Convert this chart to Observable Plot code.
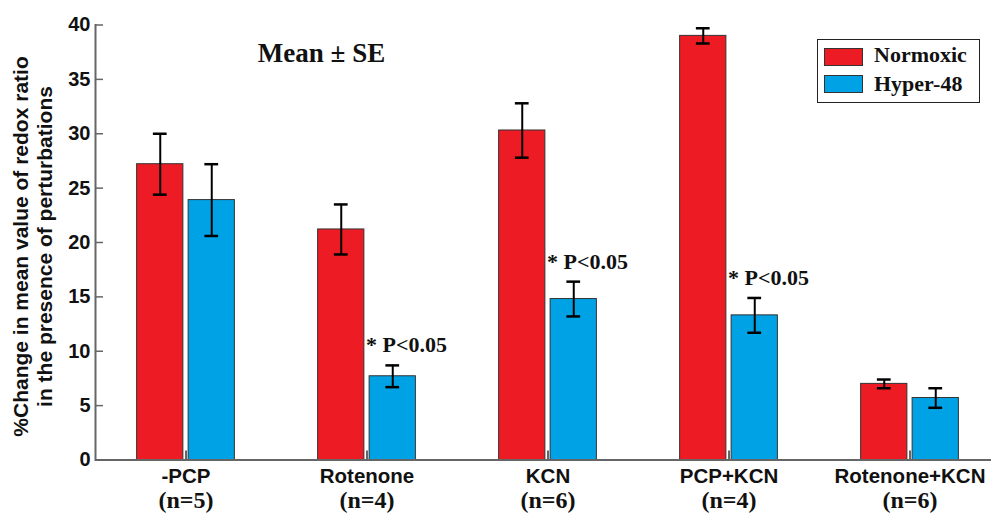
<!DOCTYPE html>
<html>
<head>
<meta charset="utf-8">
<script src="https://cdn.jsdelivr.net/npm/d3@7"></script>
<script src="https://cdn.jsdelivr.net/npm/@observablehq/plot@0.6"></script>
<style>
  body { margin: 0; background: #fff; }
  #chart { position: relative; width: 991px; height: 513px; }
  #chart svg { position: absolute; left: 0; top: 0; }
  .legend { position: absolute; left: 817px; top: 39px; width: 161px; height: 62px;
            border: 1.5px solid #222; background: #fff;
            font: bold 22px "Liberation Serif", "Times New Roman", serif; color: #111; }
  .legend .sw { position: absolute; left: 6px; width: 37px; height: 16px; border: 1px solid #333; }
  .legend .lab { position: absolute; left: 56px; line-height: 22px; white-space: nowrap; }
</style>
</head>
<body>
<div id="chart"></div>
<script>
// Treatment groups and their sample sizes
const groups = ["-PCP", "Rotenone", "KCN", "PCP+KCN", "Rotenone+KCN"];
const groupN = ["(n=5)", "(n=4)", "(n=6)", "(n=4)", "(n=6)"];

// Series
const series = ["Normoxic", "Hyper-48"];
const seriesColors = ["#ed1c24", "#00a2e6"];

// % change in mean redox ratio, mean and standard error
const normoxicMean = [27.2, 21.2, 30.3, 39.0, 7.0];
const normoxicSE   = [2.8, 2.3, 2.5, 0.7, 0.4];
const hyperMean    = [23.9, 7.7, 14.8, 13.3, 5.7];
const hyperSE      = [3.3, 1.0, 1.6, 1.6, 0.9];

// Significance annotation for the Hyper-48 bar of each group
const significance = ["", "* P<0.05", "* P<0.05", "* P<0.05", ""];

const yTicks = [0, 5, 10, 15, 20, 25, 30, 35, 40];
const yTitle = "%Change in mean value of redox ratio\nin the presence of perturbations";
const statNote = "Mean \u00b1 SE";

// Long table built from the arrays above
const rows = [];
groups.forEach((g, i) => {
  rows.push({group: g, series: series[0], mean: normoxicMean[i], se: normoxicSE[i]});
  rows.push({group: g, series: series[1], mean: hyperMean[i], se: hyperSE[i]});
});
const normRows = rows.filter(d => d.series === series[0]);
const hypRows = rows.filter(d => d.series === series[1]);
const sigRows = hypRows.map((d, i) => ({...d, label: significance[i]})).filter(d => d.label);

// Geometry
const width = 991, height = 513;
const marginLeft = 95, marginRight = 0, marginTop = 24.5, marginBottom = 53.5;
const frameW = width - marginLeft - marginRight;
const frameH = height - marginTop - marginBottom;
const xRange = [94.4, 1000.6];
const bw = (xRange[1] - xRange[0]) / groups.length;
// insets that place a span [lo, hi] (relative to the band centre) inside the band
const span = (lo, hi) => ({insetLeft: bw / 2 + lo, insetRight: bw / 2 - hi});

const sans = '"Liberation Sans", Arial, sans-serif';
const serif = '"Liberation Serif", "Times New Roman", serif';
const barOff = 25.75, barHalf = 23.25, capHalf = 7;
const axisGray = "#666";

const plot = Plot.plot({
  width, height, marginLeft, marginRight, marginTop, marginBottom,
  style: {background: "transparent", overflow: "visible"},
  x: {type: "band", domain: groups, range: xRange, padding: 0, axis: null},
  y: {domain: [0, 40], axis: null},
  marks: [
    // bars
    Plot.barY(normRows, {x: "group", y: "mean", fill: seriesColors[0], stroke: "#333", strokeWidth: 1,
      ...span(-barOff - barHalf, -barOff + barHalf)}),
    Plot.barY(hypRows, {x: "group", y: "mean", fill: seriesColors[1], stroke: "#333", strokeWidth: 1,
      ...span(barOff - barHalf, barOff + barHalf)}),
    // error bars
    Plot.ruleX(normRows, {x: "group", y1: d => d.mean - d.se, y2: d => d.mean + d.se, dx: -barOff, stroke: "#000", strokeWidth: 2}),
    Plot.ruleX(hypRows, {x: "group", y1: d => d.mean - d.se, y2: d => d.mean + d.se, dx: barOff, stroke: "#000", strokeWidth: 2}),
    Plot.tickY(normRows, {x: "group", y: d => d.mean + d.se, stroke: "#000", strokeWidth: 2.5, ...span(-barOff - capHalf, -barOff + capHalf)}),
    Plot.tickY(normRows, {x: "group", y: d => d.mean - d.se, stroke: "#000", strokeWidth: 2.5, ...span(-barOff - capHalf, -barOff + capHalf)}),
    Plot.tickY(hypRows, {x: "group", y: d => d.mean + d.se, stroke: "#000", strokeWidth: 2.5, ...span(barOff - capHalf, barOff + capHalf)}),
    Plot.tickY(hypRows, {x: "group", y: d => d.mean - d.se, stroke: "#000", strokeWidth: 2.5, ...span(barOff - capHalf, barOff + capHalf)}),
    // significance labels
    Plot.text(sigRows, {x: "group", y: d => d.mean + d.se, text: "label", dx: -1, dy: -13,
      textAnchor: "start", lineAnchor: "bottom", fontSize: 22, fontWeight: "bold", fontFamily: serif, fill: "#111"}),
    // axes
    Plot.ruleY([0], {stroke: axisGray, strokeWidth: 2}),
    Plot.frame({anchor: "left", stroke: axisGray, strokeWidth: 2}),
    Plot.ruleY(yTicks, {y: d => d, stroke: axisGray, strokeWidth: 1.5, insetRight: frameW - 8}),
    Plot.tickX(groups, {x: d => d, stroke: axisGray, strokeWidth: 2, insetTop: frameH - 9}),
    Plot.text(yTicks, {y: d => d, text: d => String(d), frameAnchor: "left", dx: -5, textAnchor: "end",
      fontSize: 20, fontWeight: "bold", fontFamily: sans, fill: "#111"}),
    Plot.text(groups, {x: d => d, text: d => d, frameAnchor: "bottom", lineAnchor: "top", dy: 8.5,
      fontSize: 20.5, fontWeight: "bold", fontFamily: sans, fill: "#111"}),
    Plot.text(groups, {x: d => d, text: (d, i) => groupN[i], frameAnchor: "bottom", lineAnchor: "top", dy: 30.5,
      fontSize: 24, fontWeight: "bold", fontFamily: serif, fill: "#111"}),
    // axis title
    Plot.text([yTitle], {text: d => d, frameAnchor: "left", rotate: -90, dx: -63, dy: 4,
      textAnchor: "middle", lineAnchor: "middle", lineHeight: 1.12, fontSize: 21, fontWeight: "bold",
      fontFamily: sans, fill: "#111"}),
    // statistic note
    Plot.text([statNote], {text: d => d, frameAnchor: "top-left", dx: 226, dy: 18, lineAnchor: "top",
      textAnchor: "middle", fontSize: 27, fontWeight: "bold", fontFamily: serif, fill: "#111"})
  ]
});

const chart = document.getElementById("chart");
chart.appendChild(plot);

// Legend
const legend = document.createElement("div");
legend.className = "legend";
const swTops = [7.5, 34.5], labTops = [4, 33];
series.forEach((s, i) => {
  const sw = document.createElement("div");
  sw.className = "sw";
  sw.style.top = swTops[i] + "px";
  sw.style.background = seriesColors[i];
  const lab = document.createElement("div");
  lab.className = "lab";
  lab.style.top = labTops[i] + "px";
  lab.textContent = s;
  legend.append(sw, lab);
});
chart.appendChild(legend);
</script>
</body>
</html>
